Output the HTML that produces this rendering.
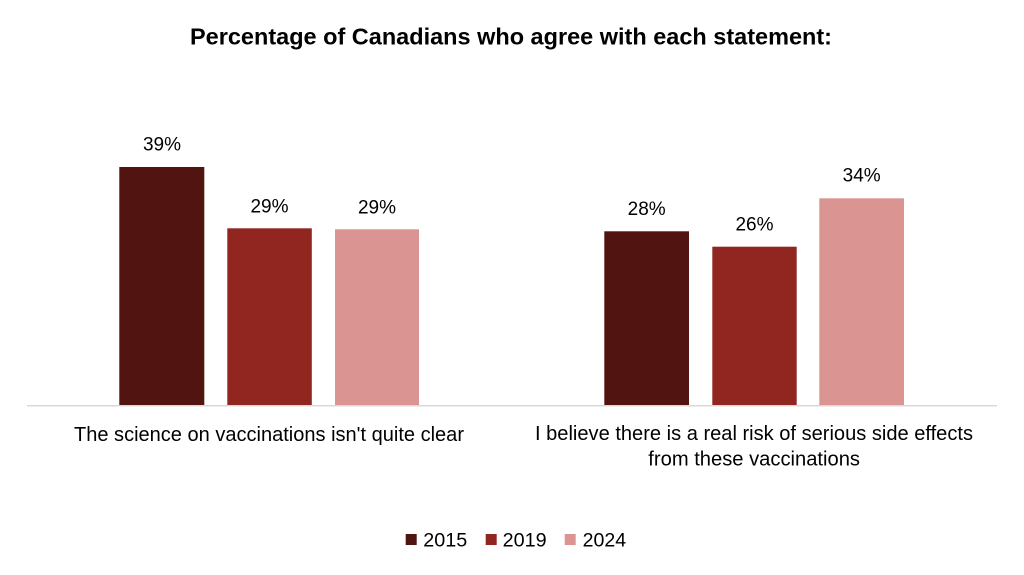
<!DOCTYPE html>
<html>
<head>
<meta charset="utf-8">
<style>
  html, body { margin: 0; padding: 0; background: #ffffff; }
  svg { display: block; }
  text { font-family: "Liberation Sans", Arial, sans-serif; fill: #000000; }
</style>
</head>
<body>
<svg width="1024" height="575" viewBox="0 0 1024 575" xmlns="http://www.w3.org/2000/svg">
  <rect x="0" y="0" width="1024" height="575" fill="#ffffff"/>

  <!-- Title -->
  <text x="190" y="44.3" font-size="23.5" font-weight="bold" textLength="642" lengthAdjust="spacingAndGlyphs">Percentage of Canadians who agree with each statement:</text>

  <!-- Bars group 1 -->
  <rect x="119.3" y="167" width="85" height="238.5" fill="#511411"/>
  <rect x="227.3" y="228.3" width="84.5" height="177.2" fill="#912621"/>
  <rect x="335" y="229.3" width="84" height="176.2" fill="#da9593"/>

  <!-- Bars group 2 -->
  <rect x="604.3" y="231.3" width="84.7" height="174.2" fill="#511411"/>
  <rect x="712.3" y="246.7" width="84.4" height="158.8" fill="#912621"/>
  <rect x="819.3" y="198.3" width="84.7" height="207.2" fill="#da9593"/>

  <!-- Axis line -->
  <rect x="27" y="405" width="970" height="1.5" fill="#d9d9d9"/>

  <!-- Data labels -->
  <g font-size="19" text-anchor="middle">
    <text x="162" y="150.7">39%</text>
    <text x="269.5" y="212.3">29%</text>
    <text x="377" y="213.3">29%</text>
    <text x="646.7" y="215">28%</text>
    <text x="754.5" y="230.5">26%</text>
    <text x="861.7" y="181.3">34%</text>
  </g>

  <!-- Category labels -->
  <text x="74" y="441" font-size="20" textLength="390" lengthAdjust="spacingAndGlyphs">The science on vaccinations isn't quite clear</text>
  <text x="535" y="440" font-size="20" textLength="438" lengthAdjust="spacingAndGlyphs">I believe there is a real risk of serious side effects</text>
  <text x="648.3" y="465.7" font-size="20" textLength="211.7" lengthAdjust="spacingAndGlyphs">from these vaccinations</text>

  <!-- Legend -->
  <rect x="405.7" y="534" width="11" height="11" fill="#511411"/>
  <text x="423.3" y="546.7" font-size="19" textLength="44" lengthAdjust="spacingAndGlyphs">2015</text>
  <rect x="485.7" y="534" width="11" height="11" fill="#912621"/>
  <text x="502.7" y="546.7" font-size="19" textLength="44" lengthAdjust="spacingAndGlyphs">2019</text>
  <rect x="564.7" y="534" width="11" height="11" fill="#da9593"/>
  <text x="582.7" y="546.7" font-size="19" textLength="43.5" lengthAdjust="spacingAndGlyphs">2024</text>
</svg>
</body>
</html>
